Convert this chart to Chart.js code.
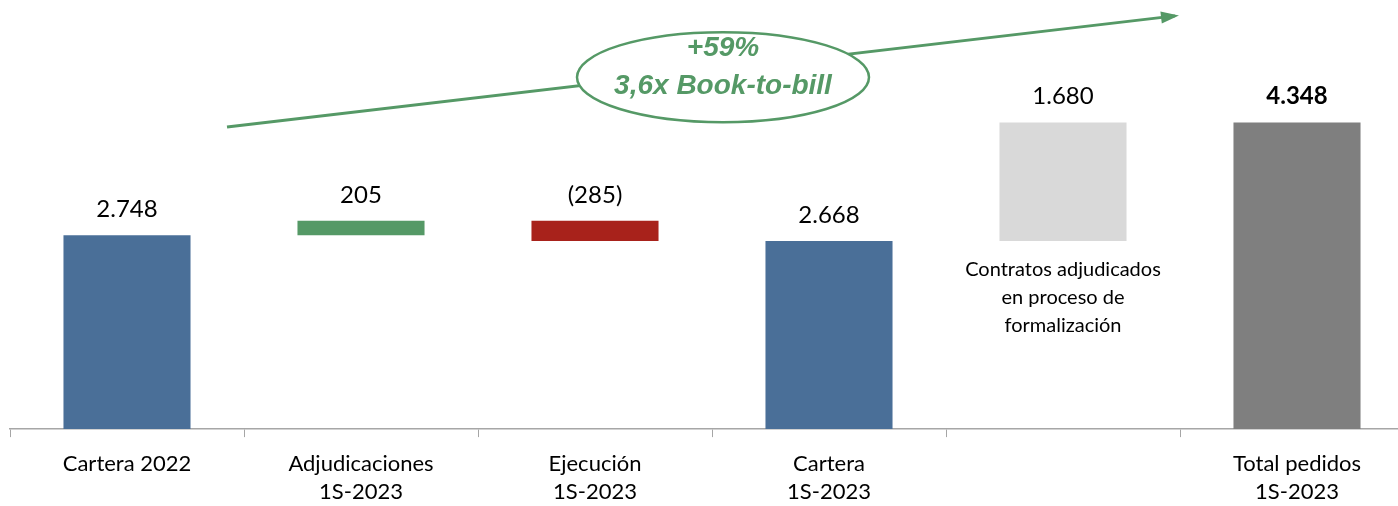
<!DOCTYPE html>
<html>
<head>
<meta charset="utf-8">
<script src="https://cdn.jsdelivr.net/npm/chart.js@4.4.1/dist/chart.umd.min.js"></script>
<style>
  html, body { margin: 0; padding: 0; background: #fff; overflow: hidden; }
  #wrap { width: 1414px; height: 506px; position: relative; }
</style>
</head>
<body>
<div id="wrap"><canvas id="chart"></canvas></div>
<script>
const categories = [
  ['Cartera 2022'],
  ['Adjudicaciones', '1S-2023'],
  ['Ejecución', '1S-2023'],
  ['Cartera', '1S-2023'],
  [''],
  ['Total pedidos', '1S-2023']
];
// floating bars: [start, end]
const barStarts = [0, 2748, 2668, 0, 2668, 0];
const barEnds = [2748, 2953, 2953, 2668, 4348, 4348];
const valueLabels = ['2.748', '205', '(285)', '2.668', '1.680', '4.348'];
const barColors = ['#4A6F98', '#559966', '#A8221B', '#4A6F98', '#D9D9D9', '#7F7F7F'];
const noteLines = ['Contratos adjudicados', 'en proceso de', 'formalización'];
const bubbleLines = ['+59%', '3,6x Book-to-bill'];

const GREEN = '#559966';

// value labels above each bar, plus the note below the light grey bar
const labelsPlugin = {
  id: 'labels',
  afterDatasetsDraw(chart) {
    const ctx = chart.ctx;
    const meta = chart.getDatasetMeta(0);
    ctx.save();
    ctx.fillStyle = '#000';
    ctx.textAlign = 'center';
    ctx.textBaseline = 'alphabetic';
    meta.data.forEach((bar, i) => {
      const bold = i === valueLabels.length - 1;
      ctx.font = (bold ? 'bold ' : '') + '24px Lato';
      ctx.fillText(valueLabels[i], bar.x, bar.y - 18);
    });
    // note under contratos bar
    const b = meta.data[4];
    ctx.font = '20px Lato';
    noteLines.forEach((t, k) => {
      ctx.fillText(t, b.x, b.base + 35 + k * 28);
    });
    ctx.restore();
  }
};

// growth arrow with ellipse callout
const arrowPlugin = {
  id: 'arrow',
  afterDraw(chart) {
    const ctx = chart.ctx;
    const x = chart.scales.x, y = chart.scales.y;
    const x0 = x.getPixelForValue(0) + 100, y0 = y.getPixelForValue(4285);
    const x1 = x.getPixelForValue(5) - 122, y1 = y.getPixelForValue(5860);
    ctx.save();
    ctx.strokeStyle = GREEN;
    ctx.fillStyle = GREEN;
    ctx.lineWidth = 3;
    ctx.beginPath();
    ctx.moveTo(x0, y0);
    ctx.lineTo(x1, y1);
    ctx.stroke();
    const ang = Math.atan2(y1 - y0, x1 - x0);
    ctx.beginPath();
    ctx.moveTo(x1 + 4 * Math.cos(ang), y1 + 4 * Math.sin(ang));
    ctx.lineTo(x1 - 14 * Math.cos(ang) + 6 * Math.sin(ang), y1 - 14 * Math.sin(ang) - 6 * Math.cos(ang));
    ctx.lineTo(x1 - 14 * Math.cos(ang) - 6 * Math.sin(ang), y1 - 14 * Math.sin(ang) + 6 * Math.cos(ang));
    ctx.closePath();
    ctx.fill();
    // ellipse
    const cx = (x.getPixelForValue(2) + x.getPixelForValue(3)) / 2 + 11;
    const cy = y.getPixelForValue(4990);
    ctx.beginPath();
    ctx.ellipse(cx, cy, 146, 45, 0, 0, Math.PI * 2);
    ctx.fillStyle = '#fff';
    ctx.fill();
    ctx.lineWidth = 2.5;
    ctx.stroke();
    ctx.fillStyle = GREEN;
    ctx.textAlign = 'center';
    ctx.textBaseline = 'middle';
    ctx.font = 'italic bold 28px "Liberation Sans Narrow", "Liberation Sans", sans-serif';
    ctx.fillText(bubbleLines[0], cx, cy - 29);
    ctx.fillText(bubbleLines[1], cx, cy + 9);
    ctx.restore();
  }
};

new Chart(document.getElementById('chart'), {
  type: 'bar',
  data: {
    labels: categories,
    datasets: [{
      data: barStarts.map((s, i) => [s, barEnds[i]]),
      backgroundColor: barColors,
      borderWidth: 0,
      barPercentage: 0.543,
      categoryPercentage: 1
    }]
  },
  options: {
    responsive: true,
    maintainAspectRatio: false,
    animation: false,
    layout: { padding: { left: 10, right: 0, top: 6, bottom: -13 } },
    plugins: { legend: { display: false }, tooltip: { enabled: false } },
    scales: {
      x: {
        grid: { drawOnChartArea: false, color: '#A6A6A6', tickLength: 8, offset: true },
        border: { color: '#A6A6A6', width: 1.5 },
        ticks: {
          color: '#000',
          font: { family: 'Lato', size: 22, lineHeight: 1.27 },
          padding: 13,
          maxRotation: 0,
          autoSkip: false
        }
      },
      y: {
        display: false,
        min: 0,
        max: 6000
      }
    }
  },
  plugins: [labelsPlugin, arrowPlugin]
});
</script>
</body>
</html>
